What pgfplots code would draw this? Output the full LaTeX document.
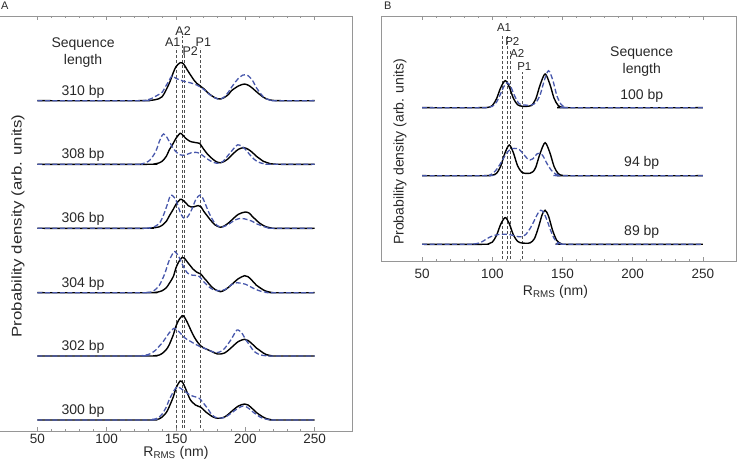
\documentclass[border=0pt]{standalone}
\usepackage{fontspec}
\setmainfont{Liberation Sans}
\usepackage{graphicx}
\usepackage{pgfplots}
\usepackage{pgfplotstable}
\pgfplotsset{compat=1.18}
\definecolor{cblue}{RGB}{72,88,172}
\definecolor{framec}{RGB}{150,150,150}
\definecolor{txt}{RGB}{40,40,40}
\definecolor{vline}{RGB}{80,80,80}

% ---------- Panel A data (x, height above baseline) ----------
\pgfplotstableread{
x y
50 0
125 0
130 0.2
135 1
140 4
145 17
148 28
150 34
153 38
155.5 36.7
158 31
160 26.7
163 20.5
165 17.3
167.5 14.7
170 12
172.5 8.5
175 5.7
178 3
180 2
182 1.7
185 3.3
188 6.5
190 10
195 14.7
199.5 16.7
203 14.8
205 12.7
208 9
210 6.7
213 3.5
215 2
218 0.7
220 0.3
225 0
250 0
}\tKbA
\pgfplotstableread{
x y
50 0
122 0
128 0.5
132 2
136 5
140 8.5
143 15.5
145 20
147 24.7
150 22.3
155 19.7
160 18
165 15.7
170 11.3
175 5.3
180 1.7
182 1.5
185 4
188 9
190 13.3
193 19
195 22.3
198 25.5
200 26
202 25
205 20.7
208 13
210 9
213 4
215 2
218 0.5
220 0
250 0
}\tKbB
\pgfplotstableread{
x y
50 0
130 0
135 0.5
138 1.5
140 3
143 8
145 14
148 21
150 26
153 31
155 29
157 26
160 23
163 22
165 21.5
167 21
170 15
172.5 10.5
175 7
178 3.5
180 2
182 1.5
185 3
188 6
190 9
195 15
199 16.6
202 15
205 12
208 8
210 6
213 3
215 2
218 0.6
220 0.3
225 0
250 0
}\tHbA
\pgfplotstableread{
x y
50 0
120 0
125 0.3
128 1.5
131 4
134 9.5
136 15
138 23
140 29
141 30.3
143 28
145 23
148 16
150 12.5
152 10
155 9
158 10
161 11.5
164 12
167 11
170 8
173 5
176 2.5
179 1.2
181 1
184 3
187 8
190 13
193 18
194.5 19.5
197 18.5
200 15
203 10
206 5.5
209 2.5
212 1
215 0.3
218 0
250 0
}\tHbB
\pgfplotstableread{
x y
50 0
128 0
132 0.3
135 0.7
138 1.5
140 3
143 7
145 12
148 19
150 24
153 29
155 28
157 25.5
159 22.5
161 21.3
163 21.5
166 22.7
168 21.5
170 17
172.5 12.5
175 8
178 3.5
180 2
182 1
185 2.5
188 5.5
190 8
195 14
200 16.3
203 15
205 12
208 8
210 5.5
213 2.8
215 1.5
218 0.5
220 0
250 0
}\tFbA
\pgfplotstableread{
x y
50 0
125 0
130 0.3
133 1
135 2
138 5
140 10
142 17
144 25
146 33
148 32
150 28
152 20
154 13
156 10
158 11
160 15
162 21
164 28
166 32
167.5 33.3
169 31
171 25
173 18
175 12
178 5
180 2.5
183 1
185 2
188 4
190 6
193 8.5
196 9.8
199 9.6
202 8.5
205 7
208 4.5
210 3.5
213 1.8
215 1
218 0.3
220 0
250 0
}\tFbB
\pgfplotstableread{
x y
50 0
130 0
135 0.3
138 1
140 2
143 5
145 9
148 16
150 25
152 31
154.5 35.3
156 34.5
158 31
160 27.5
162 24
165 20.5
168 18.5
170 15
172 12
174 8.5
176 5.5
178 3.3
180 2
182 1
185 2.5
188 5.5
190 8
195 14
199.5 17
202 16
205 12
208 7.5
210 5.5
213 2.8
215 1.5
218 0.5
220 0
250 0
}\tDbA
\pgfplotstableread{
x y
50 0
125 0
130 0.3
133 1
135 3
138 7.5
140 13
142 19.5
145 32
148.5 41
150 40
152 36
155 27
158 20
160 18
162 17.5
164 17.3
166 17
168 14.5
170 11
172.5 7.5
175 4.5
178 2.5
180 2
183 2.3
185 3
188 5.5
190 8
194 10
197 9.5
200 8.5
203 6.5
205 5
208 3
210 2
213 0.8
215 0.5
218 0
250 0
}\tDbB
\pgfplotstableread{
x y
50 0
130 0
135 0.3
138 1
140 2.5
143 6.5
145 11
148 21
150 30
152 36
154.5 40.3
156 39
158 34
160 28
162 22
164 17
166 13
168 10
170 8
172.5 6.5
175 5
178 3
180 2
182 2
185 3
188 6
190 8.5
195 14.5
199.5 16.7
202 15.5
205 12
208 8
210 6
213 3
215 1.5
218 0.5
220 0
250 0
}\tBbA
\pgfplotstableread{
x y
50 0
122 0
126 0.5
130 1.5
133 3.5
135 5.5
138 10
140 13
143 19
145 23
148.5 27.7
150 27
152 24.5
154 21.5
156 18.5
158 16.5
160 15
163 12.5
165 11
168 9
170 8
172.5 6.5
175 5
177 4
179 3.3
181 3.8
183 5
185 7.5
187 11
190 17
192 22
194 26
196 25
198 22
200 17
202 13
204 9
206 5
208 3
210 1.5
213 0.5
215 0.3
218 0
250 0
}\tBbB
\pgfplotstableread{
x y
50 0
130 0
135 0.3
138 1.2
140 3
143 7.5
145 13
148 23
150 32
153 39
155 37
157 31
160 21
162 17.5
164 15
166 13.8
168 12.7
170 10
172 7.5
174 5.5
176 3.5
178 2.3
180 1.7
182 1.8
185 3
188 6
190 8.5
195 14
199.5 16
202 15
205 11.5
208 7.5
210 5.5
213 2.8
215 1.5
218 0.5
220 0
250 0
}\tZbA
\pgfplotstableread{
x y
50 0
128 0
132 0.5
135 1
138 3
140 6
143 13
145 20
148 28
150.5 33
153 32
155 30
158 27
160 25
163 23.5
165 22.7
167 21.5
168 20
170 16.5
172 13
174 9
176 5
178 3
180 2
183 2
185 2.5
188 5
190 7
195 12
198.5 14
201 13
203 11
206 7.5
208 5.5
210 3.5
213 1.5
215 0.8
218 0.3
220 0
250 0
}\tZbB

% ---------- Panel B data ----------
\pgfplotstableread{
x y
50 0
92 0
95 0.1
97 0.3
100 2.1
103 8.8
106 20
109.2 27
112 21
115 9.5
118 3
121 1.5
124 1.3
126 1.5
128 2.2
131 8.8
134 22.5
137.6 33.7
141 23.5
144 9.4
147 2.1
150 0.3
153 0
250 0
}\tCbA
\pgfplotstableread{
x y
50 0
92 0
97 0.3
100 1.3
103 5.5
106 14
108 20.5
110.5 25
113 21.5
116 11.5
119 4.2
122 2.7
125 2.5
128 2.8
131 5
134 12.5
137 27
140 37
143 28
146 12
149 3.3
152 0.5
155 0
250 0
}\tCbB
\pgfplotstableread{
x y
50 0
95 0
98 0.2
100 0.5
103 2.3
106 9.5
109 22.5
112.1 30.7
115 23
118 10
121 3.5
124 2.3
127 2.5
129 4
131 8.6
134 22
137.6 33
141 23
144 9.2
147 2
150 0.3
153 0
250 0
}\tNbA
\pgfplotstableread{
x y
50 0
95 0
98 0.5
101 3
104 8
107 15
110 22
113 26.5
116 27.3
119 26.5
122 22
125 17
127 15.7
129 17
132 22
134 22.5
136 20
139 12
142 5.5
145 1.8
148 0.4
150 0
250 0
}\tNbB
\pgfplotstableread{
x y
50 0
93 0
97 0.3
100 2.1
103 8.8
106 20
109.2 26.7
112 21
115 9.5
118 3
121 1.3
124 1
127 1.5
130 5.6
133 17.5
135.5 29.6
137.6 34
140 28.4
143 13.7
146 3.7
149 0.6
152 0
250 0
}\tEbA
\pgfplotstableread{
x y
50 0
84 0
87 0.3
89 0.7
92 2
95 4.5
98 7
101 8.7
104 9.7
107 10
110 10
113 9.5
116 8.5
119 7.5
121 7.5
124 10
127 16
130 24
132.5 31
134.4 34
136.5 32
139 24
141.5 14
144 6
146.5 1.8
149 0.4
152 0
250 0
}\tEbB

\pgfplotsset{
  panel/.style={
    scale only axis, anchor=south west,
    ymin=0,
    xtick={50,100,150,200,250},
    minor xtick={60,70,80,90,110,120,130,140,160,170,180,190,210,220,230,240},
    ytick=\empty,
    tick align=inside,
    major tick length=4pt, minor tick length=2.2pt,
    axis line style={framec, line width=0.8pt},
    tick style={framec, line width=0.6pt},
    /pgf/number format/assume math mode=true,
    ticklabel style={font=\fontsize{13.5}{15}\selectfont, text=txt},
    label style={font=\fontsize{14}{16}\selectfont, text=txt},
  },
  blk/.style={black, line width=1.4pt, smooth},
  blu/.style={cblue, line width=1.3pt, dash pattern=on 5pt off 2.5pt, smooth},
  vl/.style={vline, line width=0.8pt, dash pattern=on 3pt off 2pt},
}

\begin{document}
\begin{tikzpicture}[x=1pt,y=1pt]
% ================= Panel A =================
\begin{axis}[panel, at={(-3pt,30pt)}, width=355pt, height=415pt,
  xmin=20.8, xmax=277, ymax=415,
  xlabel={R\textsubscript{RMS} (nm)},
  xlabel style={at={(axis description cs:0.504,0)}, anchor=center, yshift=-21.5pt},
  ylabel={\scalebox{1.2}[1]{Probability density (arb. units)}},
  ylabel style={at={(axis description cs:0.059,0.494)}, anchor=center},
]
\addplot[vl] coordinates {(150,3) (150,383)};
\addplot[vl] coordinates {(154.6,3) (154.6,395)};
\addplot[vl] coordinates {(156,3) (156,376)};
\addplot[vl] coordinates {(167.5,3) (167.5,383)};

\addplot[blk] table[x=x, y expr=\thisrow{y}+330.3] {\tKbA};
\addplot[blu] table[x=x, y expr=\thisrow{y}+330.3] {\tKbB};
\addplot[blk] table[x=x, y expr=\thisrow{y}+266.7] {\tHbA};
\addplot[blu] table[x=x, y expr=\thisrow{y}+266.7] {\tHbB};
\addplot[blk] table[x=x, y expr=\thisrow{y}+202.7] {\tFbA};
\addplot[blu] table[x=x, y expr=\thisrow{y}+202.7] {\tFbB};
\addplot[blk] table[x=x, y expr=\thisrow{y}+138.3] {\tDbA};
\addplot[blu] table[x=x, y expr=\thisrow{y}+138.3] {\tDbB};
\addplot[blk] table[x=x, y expr=\thisrow{y}+75] {\tBbA};
\addplot[blu] table[x=x, y expr=\thisrow{y}+75] {\tBbB};
\addplot[blk] table[x=x, y expr=\thisrow{y}+11] {\tZbA};
\addplot[blu] table[x=x, y expr=\thisrow{y}+11] {\tZbB};

\begin{scope}[every node/.style={font=\fontsize{12.5}{14}\selectfont, text=txt, inner sep=0pt}]
\node at (axis cs:147.6,388.7) {A1};
\node at (axis cs:155.1,400.3) {A2};
\node at (axis cs:160.3,380.3) {P2};
\node at (axis cs:169.7,388.7) {P1};
\end{scope}
\begin{scope}[every node/.style={font=\fontsize{14}{17}\selectfont, text=txt, inner sep=0pt, align=center}]
\node at (axis cs:82.9,378.5) {Sequence\\length};
\node at (axis cs:82.9,339.6) {310 bp};
\node at (axis cs:82.9,276.0) {308 bp};
\node at (axis cs:82.9,212.0) {306 bp};
\node at (axis cs:82.9,147.6) {304 bp};
\node at (axis cs:82.9,84.3) {302 bp};
\node at (axis cs:82.9,20.3) {300 bp};
\end{scope}
\end{axis}

% ================= Panel B =================
\begin{axis}[panel, at={(381pt,200pt)}, width=355pt, height=245pt,
  xmin=20.8, xmax=273.5, ymax=245,
  xticklabel style={yshift=-4.5pt},
  xlabel={R\textsubscript{RMS} (nm)},
  xlabel style={at={(axis description cs:0.4915,0)}, anchor=center, yshift=-31pt},
  ylabel={Probability density (arb. units)},
  ylabel style={at={(axis description cs:0.0535,0.445)}, anchor=center},
]
\addplot[vl] coordinates {(107.4,2) (107.4,226)};
\addplot[vl] coordinates {(111,2) (111,225)};
\addplot[vl] coordinates {(112.6,2) (112.6,211)};
\addplot[vl] coordinates {(121.7,2) (121.7,189)};

\addplot[blk] table[x=x, y expr=\thisrow{y}+153.3] {\tCbA};
\addplot[blu] table[x=x, y expr=\thisrow{y}+153.3] {\tCbB};
\addplot[blk] table[x=x, y expr=\thisrow{y}+85.3] {\tNbA};
\addplot[blu] table[x=x, y expr=\thisrow{y}+85.3] {\tNbB};
\addplot[blk] table[x=x, y expr=\thisrow{y}+16.7] {\tEbA};
\addplot[blu] table[x=x, y expr=\thisrow{y}+16.7] {\tEbB};

\begin{scope}[every node/.style={font=\fontsize{11.5}{13}\selectfont, text=txt, inner sep=0pt}]
\node at (axis cs:108.4,233) {A1};
\node at (axis cs:114.3,220) {P2};
\node at (axis cs:117.8,208) {A2};
\node at (axis cs:122.8,194) {P1};
\end{scope}
\begin{scope}[every node/.style={font=\fontsize{14}{17}\selectfont, text=txt, inner sep=0pt, align=center}]
\node at (axis cs:206.4,199.3) {Sequence\\length};
\node at (axis cs:206.4,165.6) {100 bp};
\node at (axis cs:206.4,97.7) {94 bp};
\node at (axis cs:206.4,29.0) {89 bp};
\end{scope}
\end{axis}

\node[anchor=base west, font=\fontsize{11}{13}\selectfont, text=txt, inner sep=0pt] at (1,451) {A};
\node[anchor=base west, font=\fontsize{11}{13}\selectfont, text=txt, inner sep=0pt] at (384,451) {B};

\pgfresetboundingbox
\useasboundingbox (0,0) rectangle (740,461);
\end{tikzpicture}
\end{document}
